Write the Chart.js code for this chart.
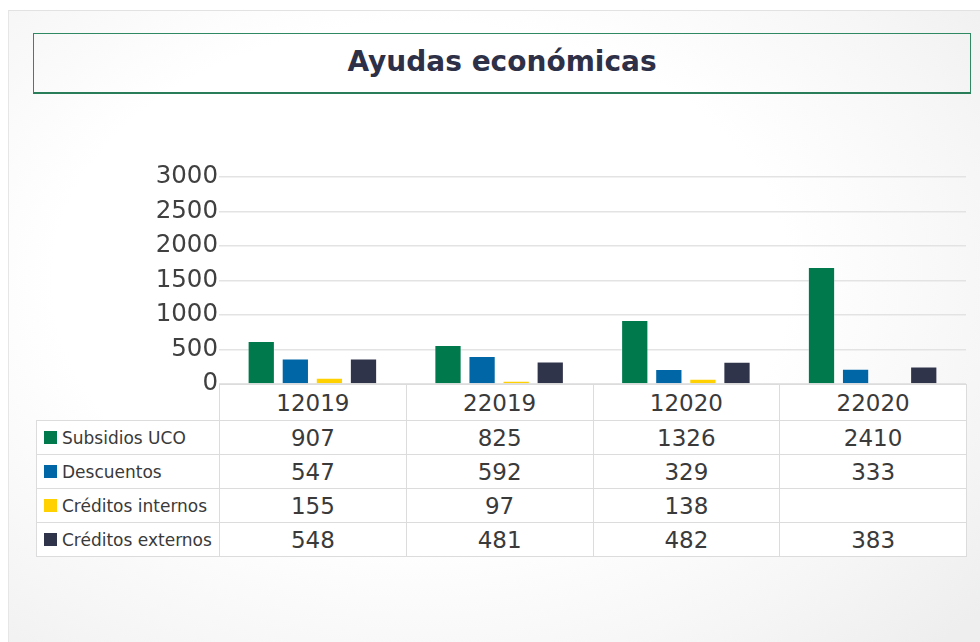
<!DOCTYPE html>
<html lang="es">
<head>
<meta charset="utf-8">
<title>Ayudas económicas</title>
<script src="https://cdn.jsdelivr.net/npm/chart.js@4/dist/chart.umd.min.js"></script>
<style>
  html, body { margin: 0; padding: 0; background: #fff; }
  body { width: 980px; height: 642px; position: relative; overflow: hidden; font-family: "DejaVu Sans", sans-serif; }
  .card {
    position: absolute; left: 8px; top: 10px; right: -10px; bottom: -10px;
    border-top: 1px solid #e2e2e2; border-left: 1px solid #e6e6e6;
    background: radial-gradient(ellipse 75% 80% at 42% 42%, #ffffff 50%, #f6f6f6 78%, #eeeeee 100%);
  }
  .title-box {
    position: absolute; left: 33px; top: 33px; width: 936px; height: 58px;
    border: 1px solid #2f8a63; border-bottom: 2px solid #2a7d59;
    text-align: center; line-height: 56px;
    font-family: "DejaVu Sans", sans-serif; font-weight: bold; font-size: 28px; color: #2d3047;
  }
  canvas { position: absolute; left: 0; top: 0; }
  .cell {
    position: absolute; box-sizing: border-box; background: #fff;
    border: 1px solid #dcdcdc; color: #3a3a3a;
    display: flex; align-items: center; justify-content: center;
    font-size: 23px;
  }
  .cell.legend { justify-content: flex-start; font-size: 17px; padding-left: 7px; }
  .swatch { width: 13px; height: 13px; margin-right: 5px; flex: none; }
</style>
</head>
<body>
<div class="card"></div>
<div class="title-box">Ayudas económicas</div>
<canvas id="chart" width="980" height="642"></canvas>
<div id="table"></div>
<script>
// Periodos (categorías del eje X)
const periods = ['12019', '22019', '12020', '22020'];

// Valores impresos en la tabla de datos
const subsidiosTabla = [907, 825, 1326, 2410];
const descuentosTabla = [547, 592, 329, 333];
const internosTabla = [155, 97, 138, null];
const externosTabla = [548, 481, 482, 383];

// Alturas de las barras tal como se leen en el eje del gráfico
const subsidiosBarras = [625, 567, 928, 1696];
const descuentosBarras = [370, 404, 216, 221];
const internosBarras = [91, 48, 77, null];
const externosBarras = [370, 326, 322, 254];

const yTicks = [0, 500, 1000, 1500, 2000, 2500, 3000];

const series = [
  { name: 'Subsidios UCO', color: '#007a4d', bars: subsidiosBarras, table: subsidiosTabla },
  { name: 'Descuentos', color: '#0066a6', bars: descuentosBarras, table: descuentosTabla },
  { name: 'Créditos internos', color: '#ffd100', bars: internosBarras, table: internosTabla },
  { name: 'Créditos externos', color: '#30344b', bars: externosBarras, table: externosTabla }
];

const chart = new Chart(document.getElementById('chart'), {
  type: 'bar',
  data: {
    labels: periods,
    datasets: series.map(s => ({
      label: s.name,
      data: s.bars,
      backgroundColor: s.color,
      borderColor: 'rgba(255,255,255,0.35)',
      borderWidth: 1,
      barPercentage: 0.8,
      categoryPercentage: 0.73
    }))
  },
  options: {
    responsive: false,
    animation: false,
    layout: { padding: { left: 0, right: 14, top: 177, bottom: 258 } },
    plugins: { legend: { display: false }, tooltip: { enabled: false } },
    scales: {
      x: { display: false },
      y: {
        min: 0,
        max: 3000,
        afterFit: (scale) => { scale.width = 219; },
        afterBuildTicks: (scale) => { scale.ticks = yTicks.map(v => ({ value: v })); },
        border: { display: false },
        grid: { color: '#e3e3e3', lineWidth: 1.5, drawTicks: false },
        ticks: {
          padding: 1,
          color: '#404040',
          font: { family: 'DejaVu Sans', size: 24.5 },
          callback: (v) => String(v)
        }
      }
    }
  }
});

// Tabla de datos alineada con el eje X del gráfico
function buildTable() {
  const area = chart.chartArea;
  const x = chart.scales.x;
  const half = (area.right - area.left) / periods.length / 2;
  const top = area.bottom;
  const headerH = 36;
  const rowH = 34;
  const legendLeft = 36;
  const host = document.getElementById('table');
  const cell = (left, top, w, h, html, cls) => {
    const d = document.createElement('div');
    d.className = 'cell' + (cls ? ' ' + cls : '');
    Object.assign(d.style, { left: left + 'px', top: top + 'px', width: (w + 1) + 'px', height: (h + 1) + 'px' });
    d.innerHTML = html;
    host.appendChild(d);
  };
  periods.forEach((p, i) => {
    const cx = x.getPixelForValue(i);
    cell(cx - half, top, half * 2, headerH, p);
    series.forEach((s, r) => {
      const v = s.table[i];
      cell(cx - half, top + headerH + r * rowH, half * 2, rowH, v == null ? '' : v);
    });
  });
  series.forEach((s, r) => {
    cell(legendLeft, top + headerH + r * rowH, area.left - legendLeft, rowH,
      `<span class="swatch" style="background:${s.color}"></span>${s.name}`, 'legend');
  });
}
buildTable();
</script>
</body>
</html>
